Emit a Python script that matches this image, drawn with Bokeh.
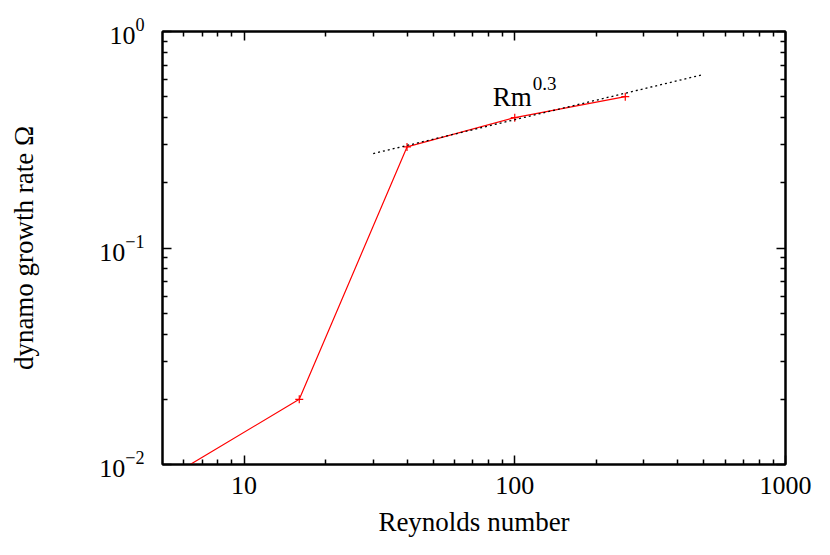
import numpy as np
from bokeh.plotting import figure
from bokeh.models import FixedTicker, LogAxis, Label, Range1d
from bokeh.embed import file_html
from bokeh.resources import INLINE

# ---- data ----
reynolds = [4, 16, 40, 100, 256]
growth = [0.0071, 0.020, 0.293, 0.40, 0.50]

fit_x = [30, 490]
fit_y = [0.273, 0.63]
fit_label = "Rm"
fit_exponent = "0.3"

x_major = [10, 100, 1000]
x_major_labels = ["10", "100", "1000"]
y_major = [0.01, 0.1, 1]

x_title = "Reynolds number"
y_title = "dynamo growth rate \u03a9"

X0, X1 = 5, 1000
Y0, Y1 = 0.01, 1

FONT = "Liberation Serif"

x_minor = [m * d for d in (1, 10, 100) for m in range(2, 10) if X0 < m * d < X1]
y_minor = [m * d for d in (0.01, 0.1) for m in range(2, 10)]

W, H = 814, 539
p = figure(width=W, height=H, x_axis_type="log", y_axis_type="log",
           x_range=Range1d(X0, X1), y_range=Range1d(Y0, Y1),
           output_backend="svg", toolbar_location=None,
           min_border_left=162, min_border_right=W - 785,
           min_border_top=31, min_border_bottom=75)
p.grid.visible = False
p.background_fill_color = "white"
p.border_fill_color = "white"
p.outline_line_color = "black"
p.outline_line_width = 2

top_axis = LogAxis()
right_axis = LogAxis()
p.add_layout(top_axis, "above")
p.add_layout(right_axis, "right")

for ax in p.xaxis:
    ax.ticker = FixedTicker(ticks=x_major, minor_ticks=x_minor)
for ax in p.yaxis:
    ax.ticker = FixedTicker(ticks=y_major, minor_ticks=y_minor)
for ax in p.xaxis + p.yaxis:
    ax.axis_line_color = "black"
    ax.axis_line_width = 2
    ax.major_tick_in = 9
    ax.major_tick_out = 0
    ax.minor_tick_in = 5
    ax.minor_tick_out = 0
    ax.major_tick_line_color = "black"
    ax.minor_tick_line_color = "black"
    ax.major_tick_line_width = 1.5
    ax.minor_tick_line_width = 1.5
    ax.major_label_text_font = FONT
    ax.major_label_text_color = "black"
    ax.axis_label_text_font = FONT
    ax.axis_label_text_font_style = "normal"
    ax.axis_label_text_color = "black"

for ax in (top_axis, right_axis):
    ax.major_label_text_color = None
    ax.major_label_text_font_size = "1px"
    ax.major_label_standoff = 0

bottom = p.below[0]
bottom.major_label_overrides = {v: s for v, s in zip(x_major, x_major_labels)}
bottom.major_label_text_font_size = "26px"
bottom.major_label_standoff = 12
bottom.axis_label = x_title
bottom.axis_label_text_font_size = "27px"
bottom.axis_label_standoff = 10

left = p.left[0]
left.major_label_text_font_size = "26px"
left.major_label_standoff = 18
left.axis_label = y_title
left.axis_label_text_font_size = "27px"
left.axis_label_standoff = 57

# data line
p.line(reynolds, growth, line_color="red", line_width=1.2)
p.scatter(reynolds, growth, marker="cross", size=8, line_color="red", line_width=1.2)

# fit line
p.line(fit_x, fit_y, line_color="black", line_width=1.3, line_dash="2 3")

# fit label
anchor_x, anchor_y = 83, 0.5
p.add_layout(Label(x=anchor_x, y=anchor_y, text=fit_label, text_font=FONT,
                   text_font_size="27px", text_align="left",
                   text_baseline="alphabetic", text_color="black"))
p.add_layout(Label(x=anchor_x, y=anchor_y, x_offset=40, y_offset=13,
                   text=fit_exponent, text_font=FONT, text_font_size="19px",
                   text_align="left", text_baseline="alphabetic",
                   text_color="black"))

open("out.html", "w").write(file_html(p, INLINE))
